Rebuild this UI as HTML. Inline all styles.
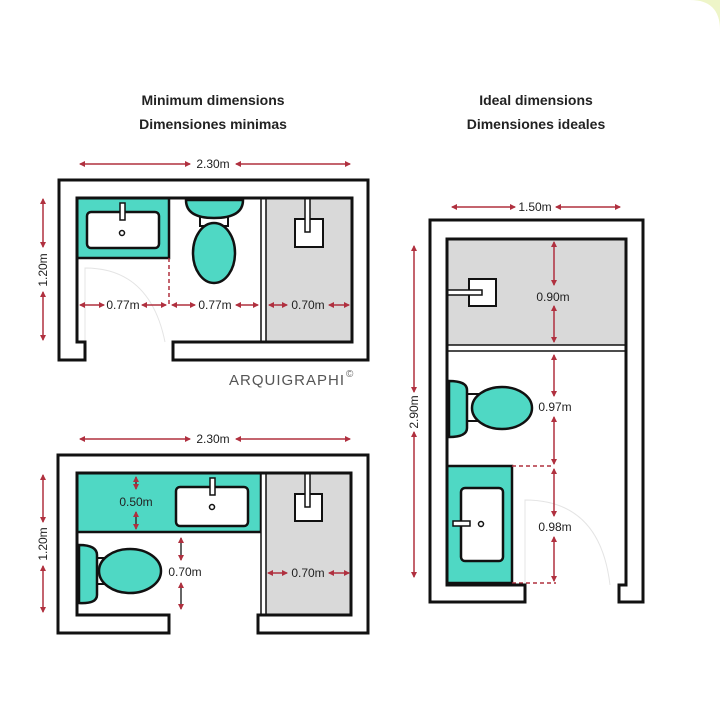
<!DOCTYPE html>
<html><head><meta charset="utf-8"><style>
html,body{margin:0;padding:0;background:#fff;}
svg{display:block;}
text{font-family:"Liberation Sans",sans-serif;}
</style></head><body>
<svg width="720" height="720" viewBox="0 0 720 720" xmlns="http://www.w3.org/2000/svg">
<defs>
<marker id="a" viewBox="0 0 6 6" refX="5" refY="3" markerWidth="4" markerHeight="4" orient="auto-start-reverse"><path d="M0,0 L6,3 L0,6 z" fill="#b0303f"/></marker>
</defs>
<rect width="720" height="720" fill="#fff"/>
<path d="M690,0 Q720,0 720,30 L720,0 Z" fill="#eef5c8"/>

<g font-size="14" fill="#222" text-anchor="middle" font-weight="bold">
<text x="213" y="105">Minimum dimensions</text>
<text x="213" y="129">Dimensiones minimas</text>
<text x="536" y="105">Ideal dimensions</text>
<text x="536" y="129">Dimensiones ideales</text>
</g>

<!-- ===== PLAN 1 ===== -->
<rect x="77" y="198" width="92" height="60" fill="#4fd8c4" stroke="#111" stroke-width="2.5"/>
<rect x="87" y="212" width="72" height="36" rx="4" fill="#fff" stroke="#111" stroke-width="2.5"/>
<rect x="120" y="203" width="5" height="17" fill="#fff" stroke="#111" stroke-width="1.5"/>
<circle cx="122" cy="233" r="2.5" fill="#fff" stroke="#111" stroke-width="1.5"/>
<rect x="266" y="198" width="86" height="144" fill="#d9d9d9"/>
<rect x="261" y="198" width="5" height="144" fill="#fff" stroke="#111" stroke-width="1.5"/>
<rect x="295" y="219" width="28" height="28" fill="#fff" stroke="#111" stroke-width="2"/>
<rect x="305" y="198" width="5" height="34" fill="#fff" stroke="#111" stroke-width="1.5"/>
<rect x="200" y="212" width="28" height="14" fill="#fff" stroke="#111" stroke-width="2"/>
<path d="M186,200 L243,200 Q243,218 214,218 Q186,218 186,200 Z" fill="#4fd8c4" stroke="#111" stroke-width="2.5"/>
<ellipse cx="214" cy="253" rx="21" ry="30" fill="#4fd8c4" stroke="#111" stroke-width="2.5"/>
<path d="M85,342 L85,268 Q150,268 165,342" fill="none" stroke="#e4e4e4" stroke-width="1"/>
<line x1="169" y1="258" x2="169" y2="305" stroke="#b0303f" stroke-width="1.5" stroke-dasharray="4,3"/>
<path d="M85,360 L59,360 L59,180 L368,180 L368,360 L173,360 L173,342 L352,342 L352,198 L77,198 L77,342 L85,342 Z" fill="#fff" stroke="#111" stroke-width="3" stroke-linejoin="miter"/>
<g stroke="#b0303f" stroke-width="1.5" marker-start="url(#a)" marker-end="url(#a)">
<line x1="80" y1="164" x2="190" y2="164"/><line x1="350" y1="164" x2="236" y2="164"/>
<line x1="80" y1="305" x2="104" y2="305"/><line x1="166" y1="305" x2="142" y2="305"/>
<line x1="172" y1="305" x2="195" y2="305"/><line x1="258" y1="305" x2="236" y2="305"/>
<line x1="269" y1="305" x2="287" y2="305"/><line x1="349" y1="305" x2="329" y2="305"/>
<line x1="43" y1="199" x2="43" y2="247"/><line x1="43" y1="340" x2="43" y2="292"/>
</g>
<g font-size="12" fill="#222" text-anchor="middle">
<text x="213" y="168">2.30m</text>
<text x="123" y="309">0.77m</text>
<text x="215" y="309">0.77m</text>
<text x="308" y="309">0.70m</text>
<text transform="translate(47,270) rotate(-90)">1.20m</text>
</g>
<text x="229" y="385" font-size="15" fill="#555" font-family="'DejaVu Sans',sans-serif" letter-spacing="1">ARQUIGRAPHI</text>
<text x="346" y="377" font-size="10" fill="#666">©</text>

<!-- ===== PLAN 2 ===== -->
<rect x="77" y="473" width="184" height="59" fill="#4fd8c4" stroke="#111" stroke-width="2.5"/>
<rect x="176" y="487" width="72" height="39" rx="4" fill="#fff" stroke="#111" stroke-width="2.5"/>
<rect x="210" y="478" width="5" height="17" fill="#fff" stroke="#111" stroke-width="1.5"/>
<circle cx="212" cy="507" r="2.5" fill="#fff" stroke="#111" stroke-width="1.5"/>
<rect x="266" y="473" width="85" height="142" fill="#d9d9d9"/>
<rect x="261" y="473" width="5" height="142" fill="#fff" stroke="#111" stroke-width="1.5"/>
<rect x="295" y="494" width="27" height="27" fill="#fff" stroke="#111" stroke-width="2"/>
<rect x="305" y="473" width="5" height="34" fill="#fff" stroke="#111" stroke-width="1.5"/>
<rect x="96" y="558" width="14" height="26" fill="#fff" stroke="#111" stroke-width="2"/>
<path d="M79,545 Q97,545 97,555 L97,595 Q97,604 79,603 Z" fill="#4fd8c4" stroke="#111" stroke-width="2.5"/>
<ellipse cx="130" cy="571" rx="31" ry="22" fill="#4fd8c4" stroke="#111" stroke-width="2.5"/>
<path d="M169,633 L58,633 L58,455 L368,455 L368,633 L258,633 L258,615 L351,615 L351,473 L77,473 L77,615 L169,615 Z" fill="#fff" stroke="#111" stroke-width="3"/>
<g stroke="#b0303f" stroke-width="1.5" marker-start="url(#a)" marker-end="url(#a)">
<line x1="80" y1="439" x2="190" y2="439"/><line x1="350" y1="439" x2="236" y2="439"/>
<line x1="43" y1="475" x2="43" y2="522"/><line x1="43" y1="612" x2="43" y2="566"/>
<line x1="268" y1="573" x2="287" y2="573"/><line x1="349" y1="573" x2="329" y2="573"/>
</g>
<g stroke="#333" stroke-width="1.5" marker-start="url(#a)" marker-end="url(#a)">
<line x1="136" y1="477" x2="136" y2="489"/><line x1="136" y1="529" x2="136" y2="512"/>
<line x1="181" y1="538" x2="181" y2="560"/><line x1="181" y1="609" x2="181" y2="583"/>
</g>
<g font-size="12" fill="#222" text-anchor="middle">
<text x="213" y="443">2.30m</text>
<text x="136" y="506">0.50m</text>
<text x="185" y="576">0.70m</text>
<text x="308" y="577">0.70m</text>
<text transform="translate(47,544) rotate(-90)">1.20m</text>
</g>

<!-- ===== PLAN 3 ===== -->
<rect x="447" y="239" width="179" height="106" fill="#d9d9d9"/>
<rect x="447" y="345" width="179" height="6" fill="#fff" stroke="#111" stroke-width="1.5"/>
<rect x="469" y="279" width="27" height="27" fill="#fff" stroke="#111" stroke-width="2"/>
<rect x="447" y="290" width="35" height="5" fill="#fff" stroke="#111" stroke-width="1.5"/>
<rect x="447" y="466" width="65" height="117" fill="#4fd8c4" stroke="#111" stroke-width="2.5"/>
<rect x="461" y="488" width="42" height="73" rx="4" fill="#fff" stroke="#111" stroke-width="2.5"/>
<rect x="453" y="521" width="17" height="5" fill="#fff" stroke="#111" stroke-width="1.5"/>
<circle cx="481" cy="524" r="2.5" fill="#fff" stroke="#111" stroke-width="1.5"/>
<rect x="467" y="394" width="12" height="27" fill="#fff" stroke="#111" stroke-width="2"/>
<path d="M449,381 Q467,381 467,390 L467,428 Q467,437 449,437 Z" fill="#4fd8c4" stroke="#111" stroke-width="2.5"/>
<ellipse cx="502" cy="408" rx="30" ry="21" fill="#4fd8c4" stroke="#111" stroke-width="2.5"/>
<path d="M525,585 L525,500 Q600,500 610,585" fill="none" stroke="#e4e4e4" stroke-width="1"/>
<g stroke="#b0303f" stroke-width="1.5" stroke-dasharray="4,3">
<line x1="512" y1="466" x2="554" y2="466"/><line x1="512" y1="583" x2="556" y2="583"/>
</g>
<path d="M525,602 L430,602 L430,220 L643,220 L643,602 L619,602 L619,585 L626,585 L626,239 L447,239 L447,585 L525,585 Z" fill="#fff" stroke="#111" stroke-width="3"/>
<g stroke="#b0303f" stroke-width="1.5" marker-start="url(#a)" marker-end="url(#a)">
<line x1="452" y1="207" x2="515" y2="207"/><line x1="620" y1="207" x2="556" y2="207"/>
<line x1="414" y1="246" x2="414" y2="392"/><line x1="414" y1="577" x2="414" y2="432"/>
<line x1="554" y1="242" x2="554" y2="285"/><line x1="554" y1="342" x2="554" y2="306"/>
<line x1="554" y1="355" x2="554" y2="396"/><line x1="554" y1="464" x2="554" y2="417"/>
<line x1="554" y1="469" x2="554" y2="516"/><line x1="554" y1="581" x2="554" y2="537"/>
</g>
<g font-size="12" fill="#222" text-anchor="middle">
<text x="535" y="211">1.50m</text>
<text x="553" y="301">0.90m</text>
<text x="555" y="411">0.97m</text>
<text x="555" y="531">0.98m</text>
<text transform="translate(418,412) rotate(-90)">2.90m</text>
</g>
</svg>
</body></html>
